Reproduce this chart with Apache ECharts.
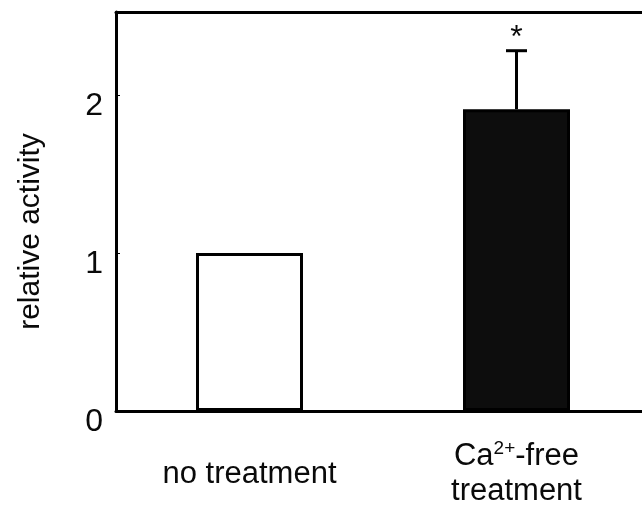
<!DOCTYPE html>
<html><head><meta charset="utf-8">
<script src="https://cdn.jsdelivr.net/npm/echarts@6/dist/echarts.min.js"></script>
<style>html,body{margin:0;padding:0;background:#fff}#c{width:642px;height:512px}</style>
</head><body><div id="c"></div>
<script>
// ---- data ----
const categories = ['no treatment', 'Ca2+-free\ntreatment'];
const means = [1.0, 1.91];
const upperErrors = [0, 0.37];
const significance = ['', '*'];
const yTicks = [0, 1, 2];
const yMax = 2.525;
const yTitle = 'relative activity';
const barColors = ['#ffffff', '#0d0d0d'];

const font = '"Liberation Sans", Arial, Helvetica, sans-serif';
const txt = '#0a0a0a';
const chart = echarts.init(document.getElementById('c'), null, {renderer: 'canvas'});

const errData = categories.map((c, i) => [i, means[i], means[i] + upperErrors[i], significance[i]]);

const option = {
  animation: false,
  backgroundColor: '#ffffff',
  grid: {left: 116, width: 534, top: 12, height: 399, containLabel: false, outerBoundsMode: 'none'},
  xAxis: [{
    type: 'category', data: categories, position: 'bottom',
    axisLine: {show: true, lineStyle: {color: '#000', width: 3}},
    axisTick: {show: false},
    splitLine: {show: false},
    axisLabel: {
      interval: 0, color: txt, fontFamily: font, fontSize: 31, lineHeight: 35,
      verticalAlign: 'middle', margin: 63,
      formatter: v => v.replace('2+', '{sup|2+}'),
      rich: {sup: {fontSize: 19, fontFamily: font, color: txt, verticalAlign: 'top', lineHeight: 35}}
    }
  }, {
    type: 'category', data: categories, position: 'top',
    axisLine: {show: true, lineStyle: {color: '#000', width: 3}},
    axisTick: {show: false}, axisLabel: {show: false}, splitLine: {show: false}
  }],
  yAxis: {
    type: 'value', min: 0, max: yMax, interval: 1,
    axisLine: {show: true, lineStyle: {color: '#000', width: 3}},
    axisTick: {show: true, inside: true, length: 4, lineStyle: {color: '#000', width: 1}},
    splitLine: {show: false},
    axisLabel: {
      color: txt, fontFamily: font, fontSize: 32, margin: 13,
      verticalAlign: 'top', lineHeight: 22,
      showMaxLabel: false,
      formatter: v => (yTicks.indexOf(v) >= 0 ? String(v) : '')
    },
    name: yTitle, nameLocation: 'middle', nameRotate: 90, nameGap: 70,
    nameTextStyle: {color: txt, fontFamily: font, fontSize: 30, padding: [0, 40, 0, 0]}
  },
  series: [
    {
      type: 'bar', barWidth: 107, xAxisIndex: 0,
      data: means.map((v, i) => ({value: v, itemStyle: {color: barColors[i], borderColor: '#000', borderWidth: 3}})),
      z: 2
    },
    {
      type: 'custom', z: 3, xAxisIndex: 0,
      data: errData,
      encode: {x: 0, y: [1, 2]},
      renderItem: function (params, api) {
        const i = api.value(0);
        const lo = api.coord([i, api.value(1)]);
        const hi = api.coord([i, api.value(2)]);
        const sig = errData[params.dataIndex][3];
        const children = [];
        if (hi[1] < lo[1] - 0.5) {
          children.push({type: 'line', shape: {x1: hi[0], y1: lo[1], x2: hi[0], y2: hi[1]}, style: {stroke: '#000', lineWidth: 3}});
          children.push({type: 'line', shape: {x1: hi[0] - 10.5, y1: hi[1], x2: hi[0] + 10.5, y2: hi[1]}, style: {stroke: '#000', lineWidth: 3}});
        }
        if (sig) {
          children.push({type: 'text', x: hi[0], y: hi[1] - 13, style: {text: sig, fill: txt, font: '32px ' + font, align: 'center', verticalAlign: 'middle'}});
        }
        return {type: 'group', children: children};
      }
    }
  ]
};
chart.setOption(option);
</script></body></html>
